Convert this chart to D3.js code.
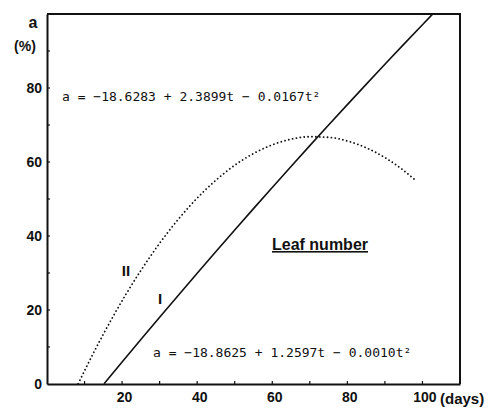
<!DOCTYPE html>
<html>
<head>
<meta charset="utf-8">
<script src="https://cdn.jsdelivr.net/npm/d3@7"></script>
<style>
  html, body { margin: 0; padding: 0; background: #fff; }
  svg { display: block; }
  .tick text { font-family: "Liberation Sans", Arial, sans-serif; font-weight: bold; font-size: 14px; fill: #111; }
  .eq { font-family: "DejaVu Sans Mono", monospace; font-size: 13px; fill: #111; }
  .lbl { font-family: "Liberation Sans", Arial, sans-serif; font-weight: bold; fill: #111; }
</style>
</head>
<body>
<svg id="chart" width="494" height="408"></svg>
<script>
// Fitted quadratics a(t) = c0 + c1·t + c2·t², coefficients as printed on the chart
const coefI  = [-18.8625, 1.2597, -0.0010];
const coefII = [-18.6283, 2.3899, -0.0167];

// Days at which each fitted curve is traced
const daysI  = [15.2, 20, 25, 30, 35, 40, 45, 50, 55, 60, 65, 70, 75, 80, 85, 90, 95, 100, 102.7];
const daysII = [8.3, 10, 12, 15, 18, 21, 25, 30, 35, 40, 45, 50, 55, 60, 65, 70, 75, 80, 85, 90, 95, 98];

const xTicks = [20, 40, 60, 80, 100];
const yTicks = [0, 20, 40, 60, 80];
const xMinor = [10, 20, 30, 40, 50, 60, 70, 80, 90, 100];
const yMinor = [10, 20, 30, 40, 50, 60, 70, 80, 90];

const eqTextII = "a = \u221218.6283 + 2.3899t \u2212 0.0167t\u00B2";
const eqTextI  = "a = \u221218.8625 + 1.2597t \u2212 0.0010t\u00B2";

const quad = c => t => c[0] + c[1] * t + c[2] * t * t;

const svg = d3.select("#chart");
const m = { left: 47, right: 460, top: 14, bottom: 384 };

const x = d3.scaleLinear().domain([0, 110]).range([m.left, m.right]);
const y = d3.scaleLinear().domain([0, 100]).range([m.bottom, m.top]);

// frame: top and right borders
svg.append("path")
  .attr("d", `M${m.left},${m.top}H${m.right}V${m.bottom}`)
  .attr("fill", "none").attr("stroke", "#111").attr("stroke-width", 2);

// x axis with inward minor ticks
const gx = svg.append("g").attr("transform", `translate(0,${m.bottom})`)
  .call(d3.axisBottom(x).tickValues(xTicks).tickSize(0).tickPadding(8)
    .tickFormat(d => d));
gx.select(".domain").attr("stroke", "#111").attr("stroke-width", 2);
gx.selectAll(".tick text").attr("dx", 2);
svg.append("g").selectAll("line").data(xMinor).join("line")
  .attr("x1", d => x(d)).attr("x2", d => x(d))
  .attr("y1", m.bottom).attr("y2", m.bottom - 3)
  .attr("stroke", "#111").attr("stroke-width", 1.2);

// y axis with inward minor ticks
const gy = svg.append("g").attr("transform", `translate(${m.left},0)`)
  .call(d3.axisLeft(y).tickValues(yTicks).tickSize(0).tickPadding(5));
gy.select(".domain").attr("stroke", "#111").attr("stroke-width", 2);
svg.append("g").selectAll("line").data(yMinor).join("line")
  .attr("x1", m.left).attr("x2", m.left + 3)
  .attr("y1", d => y(d)).attr("y2", d => y(d))
  .attr("stroke", "#111").attr("stroke-width", 1.2);

// axis titles
svg.append("text").attr("class", "lbl").attr("x", 440).attr("y", m.bottom + 20)
  .attr("font-size", 15).text("(days)");
svg.append("text").attr("class", "lbl").attr("x", 33).attr("y", 28)
  .attr("text-anchor", "middle").attr("font-size", 16).text("a");
svg.append("text").attr("class", "lbl").attr("x", 25).attr("y", 51)
  .attr("text-anchor", "middle").attr("font-size", 14).text("(%)");

// curves
const line = d3.line().curve(d3.curveMonotoneX);
const fI = quad(coefI), fII = quad(coefII);

svg.append("path")
  .attr("d", line(daysI.map(t => [x(t), y(fI(t))])))
  .attr("fill", "none").attr("stroke", "#111").attr("stroke-width", 1.6);

svg.append("path")
  .attr("d", line(daysII.map(t => [x(t), y(fII(t))])))
  .attr("fill", "none").attr("stroke", "#111").attr("stroke-width", 1.8)
  .attr("stroke-linecap", "round").attr("stroke-dasharray", "0.1,3.8");

// curve labels
svg.append("text").attr("class", "lbl").attr("x", 126).attr("y", 276)
  .attr("text-anchor", "middle").attr("font-size", 15).text("II");
svg.append("text").attr("class", "lbl").attr("x", 160).attr("y", 304)
  .attr("text-anchor", "middle").attr("font-size", 15).text("I");

// equations
svg.append("text").attr("class", "eq").attr("x", 62).attr("y", 101).text(eqTextII);
svg.append("text").attr("class", "eq").attr("x", 153).attr("y", 357).text(eqTextI);

// caption
svg.append("text").attr("class", "lbl").attr("x", 272).attr("y", 250)
  .attr("font-size", 16).attr("text-decoration", "underline").text("Leaf number");
</script>
</body>
</html>
